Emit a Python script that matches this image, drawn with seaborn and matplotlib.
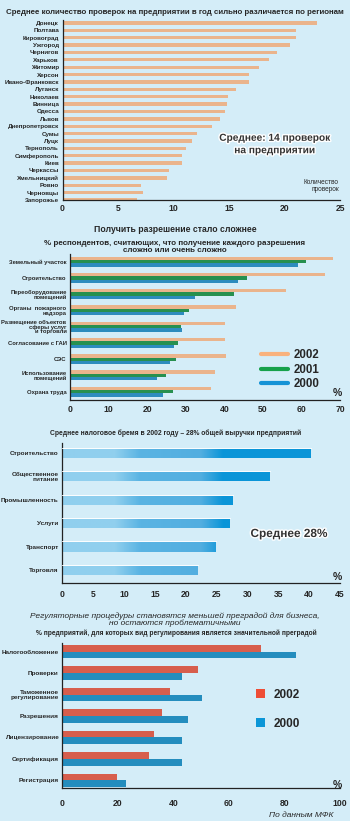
import numpy as np
import pandas as pd
import seaborn as sns
import matplotlib.pyplot as plt
import matplotlib.patheffects as pe
from matplotlib.colors import LinearSegmentedColormap
from matplotlib.lines import Line2D
from matplotlib.patches import Patch

# --- данные ---
regions = ['Донецк', 'Полтава', 'Кировоград', 'Ужгород', 'Чернигов', 'Харьков', 'Житомир',
           'Херсон', 'Ивано-Франковск', 'Луганск', 'Николаев', 'Винница', 'Одесса', 'Львов',
           'Днепропетровск', 'Сумы', 'Луцк', 'Тернополь', 'Симферополь', 'Киев', 'Черкассы',
           'Хмельницкий', 'Ровно', 'Черновцы', 'Запорожье']
inspections = [22.9, 21.0, 21.0, 20.5, 19.3, 18.6, 17.7, 16.8, 16.8, 15.6, 14.9, 14.8, 14.6,
               14.2, 13.5, 12.1, 11.7, 11.1, 10.8, 10.8, 9.6, 9.4, 7.1, 7.25, 6.7]

permits = ['Земельный участок', 'Строительство', 'Переоборудование\nпомещений',
           'Органы  пожарного\nнадзора', 'Размещение объектов\nсферы услуг\nи торговли',
           'Согласование с ГАИ', 'СЭС', 'Использование\nпомещений', 'Охрана труда']
permits_2002 = [68.3, 66.1, 55.9, 43.0, 40.2, 40.2, 40.4, 37.6, 36.6]
permits_2001 = [61.2, 45.8, 42.5, 30.9, 28.8, 27.9, 27.5, 24.8, 26.8]
permits_2000 = [59.0, 43.5, 32.4, 29.5, 29.0, 26.9, 25.9, 22.5, 24.1]

sectors = ['Строительство', 'Общественное\nпитание', 'Промышленность', 'Услуги', 'Транспорт', 'Торговля']
tax_burden = [40.3, 33.7, 27.7, 27.1, 24.9, 22.0]

procedures = ['Налогообложение', 'Проверки', 'Таможенное\nрегулирование', 'Разрешения',
              'Лицензирование', 'Сертификация', 'Регистрация']
barrier_2002 = [71.4, 48.9, 38.9, 35.8, 32.9, 31.1, 19.8]
barrier_2000 = [84.1, 43.0, 50.2, 45.2, 43.0, 43.1, 23.0]

BG = '#d4edf8'
ORANGE = '#f9b27d'
GREEN = '#16a14b'
BLUE = '#1593d6'
RED = '#ee4d36'
BLUE2 = '#0b96d7'

sns.set_style('white')
plt.rcParams['font.family'] = ['Liberation Sans', 'DejaVu Sans']
plt.rcParams['font.weight'] = 'bold'

W, H = 350, 821
fig = plt.figure(figsize=(W / 100, H / 100), dpi=100)
fig.patch.set_facecolor(BG)


def rect(x0, x1, ytop, ybot):
    return [x0 / W, 1 - ybot / H, (x1 - x0) / W, (ybot - ytop) / H]


def ftext(x, y, s, **kw):
    fig.text(x / W, 1 - y / H, s, **kw)


def style_axis(ax, xmax, step, label_size, pad):
    ax.set_facecolor(BG)
    ax.patch.set_alpha(0)
    ax.set_xlim(0, xmax)
    ax.set_xticks(np.arange(0, xmax + 0.1, step))
    ax.set_xlabel('')
    ax.set_ylabel('')
    for s in ['top', 'right']:
        ax.spines[s].set_visible(False)
    for s in ['left', 'bottom']:
        ax.spines[s].set_color('#222222')
        ax.spines[s].set_linewidth(0.9)
    ax.tick_params(axis='x', direction='out', length=1.8, width=0.8, color='#222222',
                   labelsize=6.2, pad=pad)
    ax.tick_params(axis='y', length=0, pad=2.5, labelsize=label_size)
    for t in ax.get_xticklabels():
        t.set_fontweight('bold')
    for t in ax.get_yticklabels():
        t.set_fontweight('bold')
        t.set_linespacing(0.95)


halo = [pe.withStroke(linewidth=2, foreground='white')]

# --- 1. проверки по регионам ---
ax1 = fig.add_axes(rect(62.5, 340, 20, 200))
df1 = pd.DataFrame({'region': regions, 'value': inspections})
sns.barplot(data=df1, x='value', y='region', color=ORANGE, width=0.45, linewidth=0, ax=ax1)
ax1.set_ylim(24.0, -0.4)
style_axis(ax1, 25, 5, 4.5, 0.8)
ftext(175, 13, 'Среднее количество проверок на предприятии в год сильно различается по регионам',
      ha='center', va='center', fontsize=5.7, fontweight='bold')
ftext(275, 144, 'Среднее: 14 проверок\nна предприятии', ha='center', va='center', fontsize=7.3,
      fontweight='bold', color='#333333', linespacing=1.3, path_effects=halo)
ftext(339, 186, 'Количество\nпроверок', ha='right', va='center', fontsize=4.7,
      fontweight='normal', linespacing=1.0)

# --- 2. разрешения ---
ax2 = fig.add_axes(rect(70, 340, 254, 400))
df2 = pd.DataFrame({'item': permits * 3,
                    'year': ['2002'] * 9 + ['2001'] * 9 + ['2000'] * 9,
                    'value': permits_2002 + permits_2001 + permits_2000})
sns.barplot(data=df2, x='value', y='item', hue='year', hue_order=['2002', '2001', '2000'],
            palette=[ORANGE, GREEN, BLUE], width=0.62, linewidth=0, legend=False, ax=ax2)
ax2.set_ylim(8.51, -0.47)
style_axis(ax2, 70, 10, 4.2, 1.5)
ftext(175, 229, 'Получить разрешение стало сложнее', ha='center', va='center',
      fontsize=6.2, fontweight='bold')
ftext(175, 247, '% респондентов, считающих, что получение каждого разрешения\nсложно или очень сложно',
      ha='center', va='center', fontsize=5.75, fontweight='bold', linespacing=1.0)
handles = [Line2D([], [], color=c, lw=3) for c in [ORANGE, GREEN, BLUE]]
fig.legend(handles, ['2002', '2001', '2000'], loc='upper left',
           bbox_to_anchor=(251 / W, 1 - 339 / H), frameon=False,
           handlelength=2.3, handletextpad=0.5, labelspacing=0.2, prop={'weight': 'bold', 'size': 8.3})
ftext(337, 393, '%', ha='center', va='center', fontsize=7.5, fontweight='bold')

# --- 3. налоговое бремя ---
ax3 = fig.add_axes(rect(62.3, 340, 442.7, 583))
df3 = pd.DataFrame({'sector': sectors, 'value': tax_burden})
sns.barplot(data=df3, x='value', y='sector', color='#0a95d8', width=0.43, linewidth=0, ax=ax3)
ax3.set_ylim(5.56, -0.44)
cmap = LinearSegmentedColormap.from_list('tax', [(0, '#90cfee'), (0.19, '#90cfee'),
                                                 (0.28, '#5ab4e3'), (0.50, '#52aee0'),
                                                 (0.58, '#0a95d8'), (1, '#0a95d8')])
grad = np.linspace(0, 1, 256).reshape(1, -1)
for p in list(ax3.patches):
    im = ax3.imshow(grad, extent=[0, 45, 5.56, -0.44], aspect='auto', cmap=cmap, zorder=p.get_zorder() + 0.1)
    im.set_clip_path(p)
    ax3.plot([0, p.get_width()], [p.get_y(), p.get_y()], color='white', lw=0.7, zorder=3)
ax3.set_ylim(5.56, -0.44)
style_axis(ax3, 45, 5, 4.6, 3.4)
ftext(175.5, 433, 'Среднее налоговое бремя в 2002 году – 28% общей выручки предприятий',
      ha='center', va='center', fontsize=4.9, fontweight='bold')
ftext(289, 534, 'Среднее 28%', ha='center', va='center', fontsize=8.5, fontweight='bold',
      color='#333333', path_effects=halo)
ftext(337, 577, '%', ha='center', va='center', fontsize=7.5, fontweight='bold')

# --- 4. регуляторные процедуры ---
ax4 = fig.add_axes(rect(62.3, 340, 642.7, 788.3))
df4 = pd.DataFrame({'proc': procedures * 2,
                    'year': ['2002'] * 7 + ['2000'] * 7,
                    'value': barrier_2002 + barrier_2000})
sns.barplot(data=df4, x='value', y='proc', hue='year', hue_order=['2002', '2000'],
            palette=[RED, BLUE2], width=0.63, linewidth=0, legend=False, ax=ax4)
ax4.set_ylim(6.37, -0.42)
style_axis(ax4, 100, 20, 4.6, 5.8)
ftext(175, 619.5, 'Регуляторные процедуры становятся меньшей преградой для бизнеса,\nно остаются проблематичными',
      ha='center', va='center', fontsize=6.0, fontweight='normal', style='italic', linespacing=0.95)
ftext(176, 633, '% предприятий, для которых вид регулирования является значительной преградой',
      ha='center', va='center', fontsize=4.8, fontweight='bold')
sq = [Patch(facecolor=c, edgecolor='none') for c in [RED, BLUE2]]
fig.legend(sq, ['2002', '2000'], loc='upper left', bbox_to_anchor=(245 / W, 1 - 678 / H),
           frameon=False, handlelength=0.8, handleheight=0.8, handletextpad=0.7,
           labelspacing=1.45, prop={'weight': 'bold', 'size': 8.5})
ftext(337, 785, '%', ha='center', va='center', fontsize=7.5, fontweight='bold')
ftext(333, 815, 'По данным МФК', ha='right', va='center', fontsize=6.0,
      fontweight='normal', style='italic')

fig.savefig('out.png', dpi=100, facecolor=BG)
